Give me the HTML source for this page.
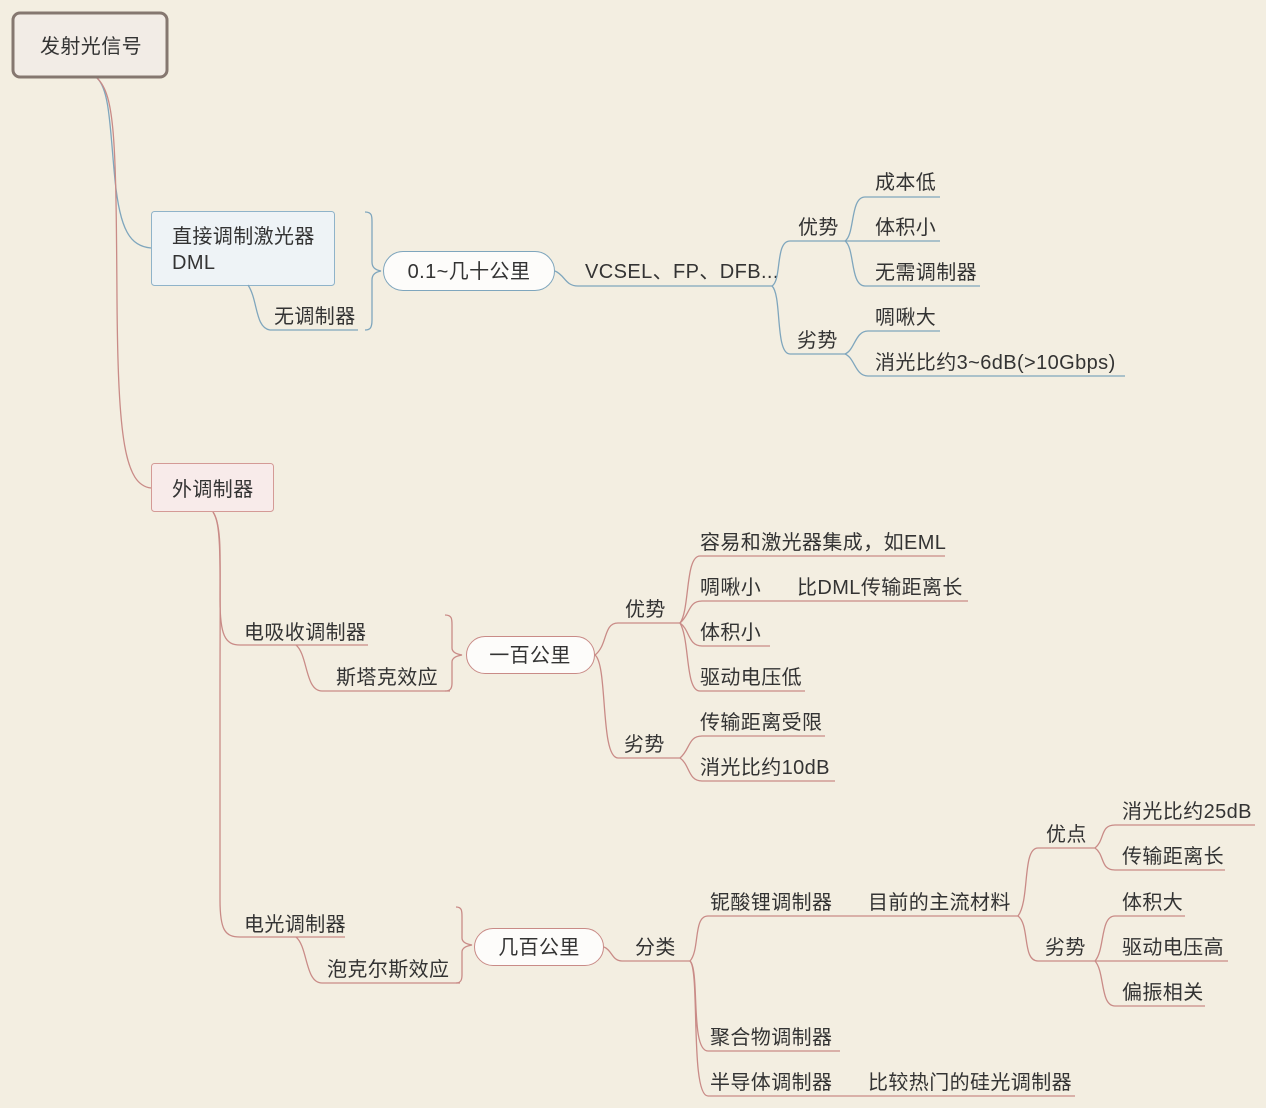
<!DOCTYPE html>
<html><head><meta charset="utf-8"><style>
html,body{margin:0;padding:0;background:#f3eee1;}
svg{display:block}
text{font-family:"Liberation Sans","Noto Sans CJK SC",sans-serif;font-size:20px;letter-spacing:0.4px;fill:#333;dominant-baseline:central;transform:translateY(1px)}
.b{fill:none;stroke:#7fa6bd;stroke-width:1.3}
.r{fill:none;stroke:#c98b87;stroke-width:1.3}
</style></head><body>
<svg width="1266" height="1108" viewBox="0 0 1266 1108" xmlns="http://www.w3.org/2000/svg">
<rect width="1266" height="1108" fill="#f3eee1"/>
<!-- root -->
<path class="b" d="M97 78 C110 90 110 130 115 180 C120 230 130 246 151 248"/>
<path class="r" d="M97 78 C115 95 116 140 117 300 C118 440 125 485 151 488"/>
<rect x="13" y="13" width="154" height="64" rx="7" fill="#f2ece6" stroke="#857770" stroke-width="3"/>
<text x="91" y="46" text-anchor="middle">发射光信号</text>

<!-- DML -->
<rect x="151.5" y="211.5" width="183" height="74" rx="3" fill="#eef3f6" stroke="#8fb3c9"/>
<text x="172" y="236">直接调制激光器</text>
<text x="172" y="262">DML</text>
<path class="b" d="M248 285 C258 300 255 328 270 330 L358 330"/>
<text x="274" y="316">无调制器</text>
<path class="b" d="M365 212 C372 212 372 216 372 222 L372 262 C372 268 376 270 381 271 C376 272 372 274 372 280 L372 320 C372 328 370 330 365 330"/>
<rect x="383.5" y="251.5" width="171" height="39" rx="19.5" fill="#fdfcfa" stroke="#7fa6bd"/>
<text x="469" y="271" text-anchor="middle">0.1~几十公里</text>
<path class="b" d="M555 271 C565 275 565 286 578 286 L772 286"/>
<text x="585" y="271">VCSEL、FP、DFB...</text>
<path class="b" d="M772 286 C782 280 775 241 790 241 L845 241"/>
<path class="b" d="M772 286 C782 295 775 354 790 354 L845 354"/>
<text x="798" y="227">优势</text>
<text x="797" y="340">劣势</text>
<path class="b" d="M845 241 C855 235 850 197 865 197 L940 197"/>
<path class="b" d="M845 241 L940 241"/>
<path class="b" d="M845 241 C855 248 850 286 865 286 L980 286"/>
<path class="b" d="M845 354 C855 350 855 331 868 331 L940 331"/>
<path class="b" d="M845 354 C855 358 855 376 868 376 L1125 376"/>
<text x="875" y="182">成本低</text>
<text x="875" y="227">体积小</text>
<text x="875" y="272">无需调制器</text>
<text x="875" y="317">啁啾大</text>
<text x="875" y="362">消光比约3~6dB(&gt;10Gbps)</text>

<!-- external modulator -->
<path class="r" d="M213 512 C222 525 220 560 220 600 C220 635 225 645 240 645 L368 645"/>
<path class="r" d="M213 512 C222 525 220 560 220 700 L220 900 C220 930 225 937 240 937 L345 937"/>
<rect x="151.5" y="463.5" width="122" height="48" rx="3" fill="#f8ebea" stroke="#d49a96"/>
<text x="172" y="489">外调制器</text>

<text x="244" y="632">电吸收调制器</text>
<path class="r" d="M296 645 C308 655 305 691 322 691 L450 691"/>
<text x="336" y="677">斯塔克效应</text>
<path class="r" d="M445 615 C452 615 452 619 452 625 L452 648 C452 652 456 654 462 655 C456 656 452 658 452 662 L452 683 C452 689 450 691 445 691"/>
<rect x="466.5" y="636.5" width="128" height="37" rx="18.5" fill="#fdfcfa" stroke="#c98b87"/>
<text x="530" y="655" text-anchor="middle">一百公里</text>
<path class="r" d="M595 655 C608 645 603 623 618 623 L680 623"/>
<path class="r" d="M595 655 C608 665 600 758 618 758 L680 758"/>
<text x="625" y="609">优势</text>
<text x="624" y="744">劣势</text>
<path class="r" d="M680 623 C690 610 685 556 700 556 L945 556"/>
<path class="r" d="M680 623 C690 615 688 601 702 601 L968 601"/>
<path class="r" d="M680 623 C690 630 688 646 702 646 L770 646"/>
<path class="r" d="M680 623 C690 640 685 691 700 691 L805 691"/>
<path class="r" d="M680 758 C690 750 688 736 702 736 L825 736"/>
<path class="r" d="M680 758 C690 765 688 781 702 781 L835 781"/>
<text x="700" y="542">容易和激光器集成，如EML</text>
<text x="700" y="587">啁啾小</text>
<text x="797" y="587">比DML传输距离长</text>
<text x="700" y="632">体积小</text>
<text x="700" y="677">驱动电压低</text>
<text x="700" y="722">传输距离受限</text>
<text x="700" y="767">消光比约10dB</text>

<text x="244" y="924">电光调制器</text>
<path class="r" d="M296 937 C308 947 305 983 322 983 L460 983"/>
<text x="327" y="969">泡克尔斯效应</text>
<path class="r" d="M456 907 C462 907 462 911 462 917 L462 938 C462 942 466 944 472 945 C466 946 462 948 462 952 L462 975 C462 981 460 983 456 983"/>
<rect x="474.5" y="928.5" width="129" height="37" rx="18.5" fill="#fdfcfa" stroke="#c98b87"/>
<text x="539" y="947" text-anchor="middle">几百公里</text>
<path class="r" d="M604 947 C612 950 612 961 622 961 L690 961"/>
<text x="635" y="947">分类</text>
<path class="r" d="M690 961 C700 950 693 916 708 916 L1018 916"/>
<path class="r" d="M690 961 C700 970 690 1051 708 1051 L840 1051"/>
<path class="r" d="M690 961 C700 970 690 1096 708 1096 L1075 1096"/>
<text x="710" y="902">铌酸锂调制器</text>
<text x="868" y="902">目前的主流材料</text>
<text x="710" y="1037">聚合物调制器</text>
<text x="710" y="1082">半导体调制器</text>
<text x="868" y="1082">比较热门的硅光调制器</text>
<path class="r" d="M1018 916 C1030 900 1022 848 1038 848 L1095 848"/>
<path class="r" d="M1018 916 C1030 925 1022 961 1038 961 L1095 961"/>
<text x="1046" y="834">优点</text>
<text x="1045" y="947">劣势</text>
<path class="r" d="M1095 848 C1105 840 1100 825 1115 825 L1255 825"/>
<path class="r" d="M1095 848 C1105 855 1100 870 1115 870 L1225 870"/>
<path class="r" d="M1095 961 C1105 950 1100 916 1115 916 L1185 916"/>
<path class="r" d="M1095 961 L1228 961"/>
<path class="r" d="M1095 961 C1105 972 1100 1006 1115 1006 L1205 1006"/>
<text x="1122" y="811">消光比约25dB</text>
<text x="1122" y="856">传输距离长</text>
<text x="1122" y="902">体积大</text>
<text x="1122" y="947">驱动电压高</text>
<text x="1122" y="992">偏振相关</text>
</svg>
</body></html>
